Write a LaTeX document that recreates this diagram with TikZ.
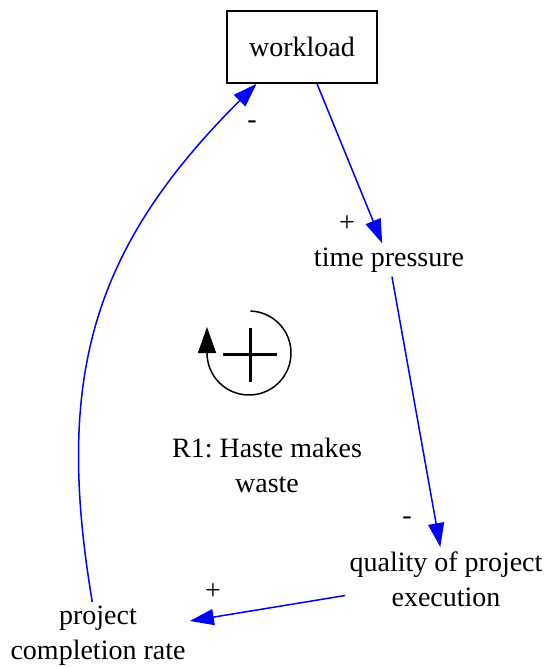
\documentclass[tikz,border=0pt]{standalone}
\usepackage{fontspec}
\setmainfont{Liberation Serif}
\usepackage{tikz}
\usetikzlibrary{arrows.meta,positioning}
\definecolor{linkblue}{RGB}{0,0,255}
\frenchspacing

\begin{document}
\begin{tikzpicture}[x=0.5pt,y=-0.5pt,
  every node/.style={font=\fontsize{14}{17.5}\selectfont,align=center,inner sep=2pt},
  var/.style={},
  stock/.style={draw,line width=0.75pt,minimum width=75pt,minimum height=36pt},
  sign/.style={inner sep=0pt},
  link/.style={linkblue,line width=0.75pt,-{Triangle[length=12pt,width=8pt]}}]
\useasboundingbox (0,0) rectangle (545,667);
% ---------- variables ----------
\node[stock] (wl) at (302,47) {workload};
\node[var] (tp) at (389,260) {time pressure};
\node[var] (qpe) at (446,579) {quality of project\\execution};
\node[var] (pcr) at (98,636) {project\\completion rate};
% ---------- causal links ----------
\draw[link] (wl) -- (tp);
\draw[link] (tp) -- (qpe);
\draw[link] (qpe) -- (pcr);
\draw[link] (pcr) .. controls (55,380) and (90,250) .. (wl.-141);
% polarities
\node[sign] (s1) at (347,224) {+};
\node[sign] (s2) at (407,521) {-};
\node[sign] (s3) at (213,592) {+};
\node[sign] (s4) at (252,125) {-};
% ---------- loop marker ----------
\draw[line width=0.75pt,-{Triangle[length=13pt,width=9pt]}] (249,353) ++(-88:42)
  arc[start angle=-88,end angle=180,radius=42] -- ++(0,-26);
\draw[line width=1.5pt] (223,354) -- (277,354);
\draw[line width=1.5pt] (250,328) -- (250,382);
\node[var] (r1) at (267,465) {R1: Haste makes\\waste};
\end{tikzpicture}
\end{document}
